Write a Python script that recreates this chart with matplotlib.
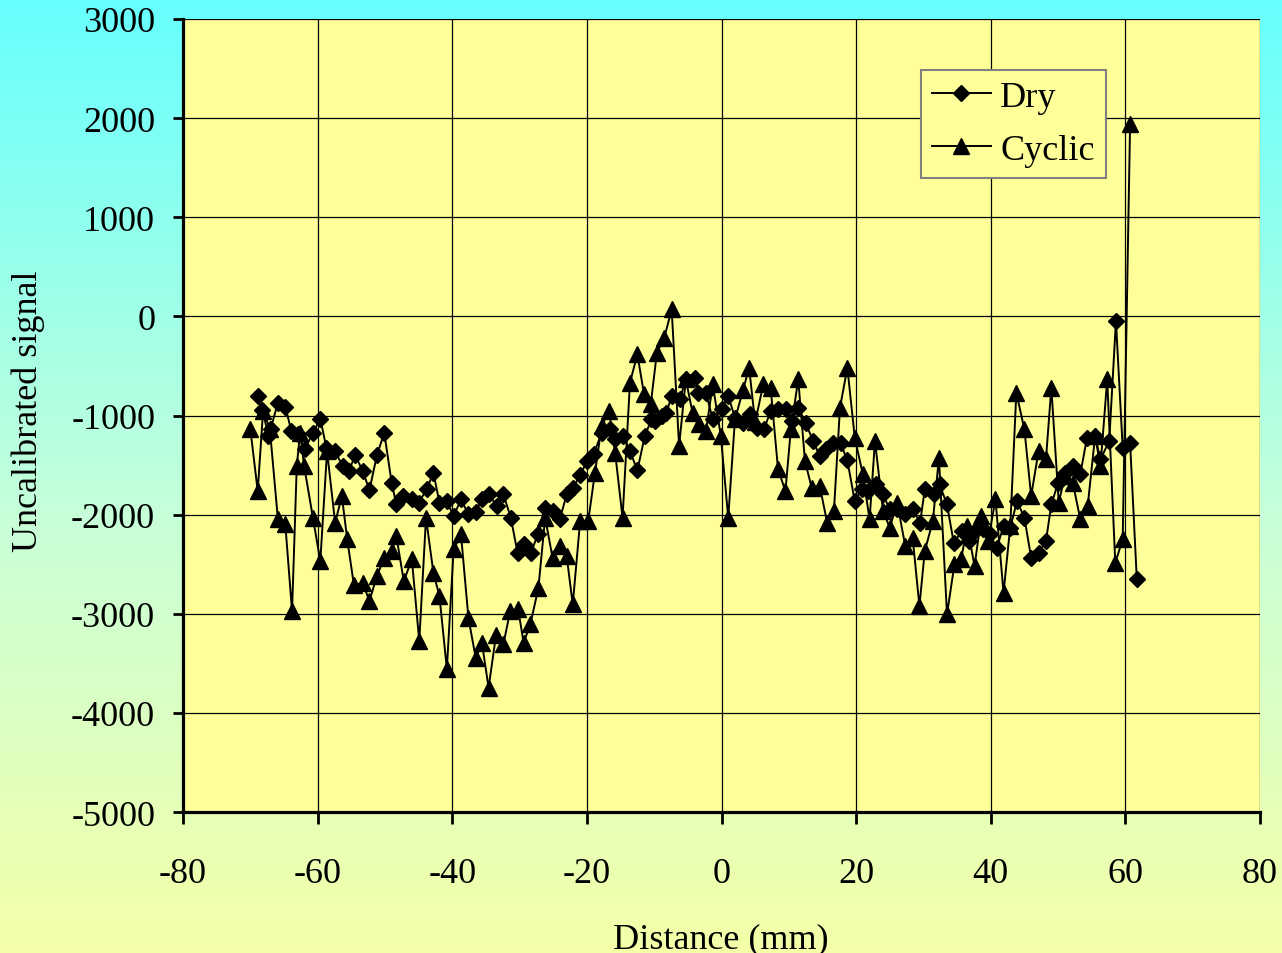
import numpy as np
import matplotlib
matplotlib.use("Agg")
import matplotlib.pyplot as plt
from matplotlib.colors import LinearSegmentedColormap

plt.rcParams['font.family'] = ['Liberation Serif', 'DejaVu Serif']
plt.rcParams['axes.unicode_minus'] = False

# Dry series (diamonds)
dry_x = [-68.9, -68.2, -67.3, -67.0, -65.9, -64.8, -63.9, -62.9, -61.9, -60.7,
         -59.6, -58.7, -57.4, -56.3, -55.4, -54.4, -53.3, -52.3, -51.2, -50.1,
         -49.0, -48.3, -47.3, -46.0, -45.0, -43.8, -42.8, -41.9, -40.8, -39.8,
         -38.7, -37.6, -36.5, -35.6, -34.5, -33.4, -32.4, -31.3, -30.3, -29.3,
         -28.3, -27.3, -26.2, -25.0, -24.0, -23.0, -22.1, -21.0, -20.0, -19.0,
         -17.8, -16.6, -15.8, -14.6, -13.6, -12.5, -11.4, -10.4, -9.9, -8.9,
         -8.2, -7.4, -6.2, -5.3, -4.0, -3.5, -2.3, -1.3, 0.0, 1.0,
         2.0, 3.2, 4.2, 5.2, 6.3, 7.3, 8.4, 9.6, 10.4, 11.4,
         12.5, 13.6, 14.6, 15.5, 16.6, 17.7, 18.7, 19.8, 20.8, 21.8,
         22.9, 24.0, 25.0, 26.1, 27.2, 28.4, 29.5, 30.2, 31.5, 32.4,
         33.5, 34.5, 35.7, 36.7, 37.7, 38.9, 39.9, 40.9, 41.9, 42.9,
         43.9, 45.0, 46.0, 47.1, 48.2, 49.0, 50.0, 51.0, 52.2, 53.3,
         54.3, 55.5, 56.3, 57.6, 58.6, 59.6, 60.7, 61.7]
dry_y = [-804, -940, -1208, -1140, -871, -910, -1157, -1190, -1342, -1174,
         -1033, -1325, -1359, -1511, -1561, -1403, -1561, -1752, -1403, -1174,
         -1680, -1897, -1813, -1846, -1880, -1746, -1577, -1880, -1863, -2015,
         -1846, -1998, -1974, -1840, -1796, -1914, -1796, -2031, -2385, -2300,
         -2385, -2200, -1931, -1965, -2042, -1796, -1729, -1604, -1460, -1393,
         -1174, -1140, -1241, -1208, -1359, -1554, -1208, -1040, -1056, -1006,
         -972, -804, -838, -636, -619, -771, -771, -1039, -939, -804,
         -1022, -1073, -989, -1124, -1140, -956, -939, -939, -1056, -922,
         -1073, -1258, -1410, -1342, -1275, -1282, -1453, -1867, -1746, -1763,
         -1695, -1796, -1948, -1948, -1998, -1948, -2082, -1746, -1796, -1695,
         -1897, -2284, -2166, -2267, -2166, -2149, -2200, -2335, -2116, -2132,
         -1863, -2031, -2435, -2385, -2267, -1897, -1680, -1577, -1511, -1594,
         -1224, -1208, -1443, -1258, -47, -1325, -1275, -2654]

# Cyclic series (triangles)
cyc_x = [-70.0, -68.9, -68.1, -67.1, -65.9, -64.8, -63.8, -63.1, -62.6, -62.0,
         -60.7, -59.6, -58.6, -57.4, -56.4, -55.6, -54.6, -53.3, -52.3, -51.2,
         -50.1, -49.0, -48.3, -47.2, -46.0, -44.9, -43.9, -42.8, -41.9, -40.8,
         -39.8, -38.7, -37.6, -36.5, -35.6, -34.6, -33.5, -32.4, -31.4, -30.2,
         -29.4, -28.4, -27.2, -26.2, -25.1, -24.0, -23.0, -22.1, -21.0, -19.8,
         -18.8, -17.8, -16.7, -15.8, -14.7, -13.6, -12.5, -11.5, -10.5, -9.6,
         -8.5, -7.4, -6.3, -5.3, -4.3, -3.4, -2.3, -1.3, -0.1, 1.0,
         2.0, 3.2, 4.1, 5.0, 6.2, 7.3, 8.4, 9.5, 10.3, 11.4,
         12.4, 13.4, 14.6, 15.7, 16.7, 17.6, 18.7, 19.8, 21.0, 22.0,
         22.8, 24.0, 25.0, 26.1, 27.3, 28.4, 29.4, 30.2, 31.4, 32.3,
         33.5, 34.6, 35.6, 36.5, 37.6, 38.6, 39.6, 40.7, 41.9, 42.9,
         43.8, 45.0, 46.0, 47.1, 48.2, 49.0, 50.1, 51.0, 52.2, 53.3,
         54.4, 55.5, 56.3, 57.3, 58.5, 59.6, 60.7]
cyc_y = [-1134, -1762, -950, -1134, -2048, -2099, -2974, -1511, -1174, -1511,
         -2031, -2469, -1359, -2082, -1813, -2250, -2714, -2687, -2873, -2620,
         -2435, -2368, -2217, -2671, -2452, -3276, -2031, -2587, -2822, -3557,
         -2351, -2200, -3041, -3451, -3291, -3746, -3218, -3309, -2974, -2957,
         -3291, -3107, -2738, -2031, -2435, -2317, -2418, -2906, -2065, -2065,
         -1577, -1106, -956, -1376, -2031, -669, -383, -787, -880, -367,
         -215, 71, -1308, -636, -972, -1090, -1157, -686, -1208, -2031,
         -1039, -745, -518, -1070, -686, -720, -1544, -1762, -1140, -636,
         -1460, -1729, -1712, -2082, -1965, -922, -518, -1224, -1594, -2048,
         -1258, -1965, -2132, -1880, -2317, -2233, -2923, -2368, -2065, -1426,
         -3007, -2503, -2452, -2116, -2520, -2015, -2267, -1846, -2789, -2116,
         -771, -1140, -1813, -1359, -1443, -720, -1880, -1611, -1680, -2048,
         -1914, -1208, -1511, -636, -2486, -2250, 1937]

x_ticks = [-80, -60, -40, -20, 0, 20, 40, 60, 80]
y_ticks = [-5000, -4000, -3000, -2000, -1000, 0, 1000, 2000, 3000]

assert len(dry_x) == len(dry_y)
assert len(cyc_x) == len(cyc_y)

fig = plt.figure(figsize=(12.82, 9.54), dpi=100)

# gradient background (cyan at top to pale yellow at bottom)
bg = fig.add_axes([0, 0, 1, 1], zorder=-10)
cmap = LinearSegmentedColormap.from_list(
    "bg", [(0.0, "#F4FFA8"), (0.45, "#C8FFD8"), (1.0, "#66FFFF")])
bg.imshow(np.linspace(0, 1, 256).reshape(-1, 1), aspect="auto",
          cmap=cmap, origin="lower", extent=[0, 1, 0, 1])
bg.set_axis_off()

ax = fig.add_axes([183 / 1282, 141 / 954, 1077 / 1282, 793 / 954])
ax.set_facecolor("#FFFF99")

ax.plot(dry_x, dry_y, color="black", lw=1.4, marker="D", markersize=8,
        label="Dry", zorder=3)
ax.plot(cyc_x, cyc_y, color="black", lw=1.4, marker="^", markersize=11,
        label="Cyclic", zorder=3)

ax.set_xlim(-80, 80)
ax.set_ylim(-5000, 3000)
ax.set_xticks(x_ticks)
ax.set_yticks(y_ticks)
ax.grid(True, color="black", lw=0.9)
ax.set_axisbelow(True)

for side in ("top", "right"):
    ax.spines[side].set_visible(False)
for side in ("left", "bottom"):
    ax.spines[side].set_linewidth(2.3)

ax.tick_params(axis="y", direction="out", length=7, width=2, pad=13,
               labelsize=26)
ax.tick_params(axis="x", direction="out", length=8.5, width=2, pad=24,
               labelsize=26)

fig.text(721 / 1282, 1 - 940 / 954, "Distance (mm)", ha="center", va="center",
         fontsize=26)
fig.text(28 / 1282, 1 - 411 / 954, "Uncalibrated signal", ha="center",
         va="center", rotation=90, fontsize=26)

leg = ax.legend(loc="upper left", bbox_to_anchor=(0.685, 0.936),
                borderaxespad=0, fontsize=26, handlelength=1.65,
                handletextpad=0.25, labelspacing=0.55, borderpad=0.3,
                fancybox=False, framealpha=1, facecolor="#FFFF99",
                edgecolor="#808080")
leg.get_frame().set_linewidth(1.5)

fig.savefig("out.png", dpi=100)
